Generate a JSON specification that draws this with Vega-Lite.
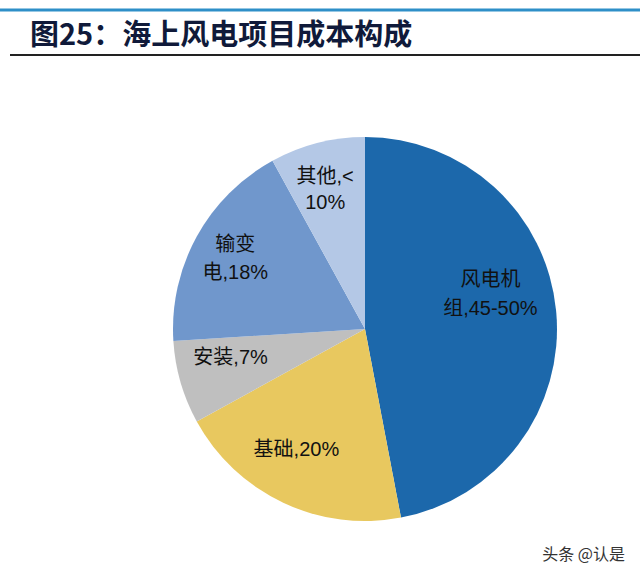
{
  "$schema": "https://vega.github.io/schema/vega-lite/v6.json",
  "width": 550,
  "height": 498,
  "autosize": "none",
  "padding": {"left": 90, "top": 80, "right": 0, "bottom": 0},
  "background": "white",
  "config": {"view": {"stroke": null}},
  "layer": [
    {
      "data": {"values": [
        {"item": "风电机组", "value": 47, "idx": 1, "label": "风电机\n组,45-50%"},
        {"item": "基础", "value": 20, "idx": 2, "label": "基础,20%"},
        {"item": "安装", "value": 7, "idx": 3, "label": "安装,7%"},
        {"item": "输变电", "value": 18, "idx": 4, "label": "输变\n电,18%"},
        {"item": "其他", "value": 8, "idx": 5, "label": "其他,<\n10%"}
      ]},
      "encoding": {
        "theta": {"field": "value", "type": "quantitative", "stack": true},
        "order": {"field": "idx", "type": "quantitative"}
      },
      "layer": [
        {
          "mark": {"type": "arc", "outerRadius": 192},
          "encoding": {
            "color": {
              "field": "item",
              "type": "nominal",
              "scale": {
                "domain": ["风电机组", "基础", "安装", "输变电", "其他"],
                "range": ["#1c68ab", "#e8c85f", "#bfbfbf", "#7097cc", "#b4c8e6"]
              },
              "legend": null
            }
          }
        },
        {
          "mark": {"type": "text", "radius": 140, "dx": -14, "dy": -36, "fontSize": 20, "font": "Liberation Sans, Noto Sans CJK SC", "lineBreak": "\n", "lineHeight": 29, "color": "#111111"},
          "encoding": {"text": {"condition": {"test": "datum.item === '风电机组'", "field": "label"}, "value": ""}}
        },
        {
          "mark": {"type": "text", "radius": 140, "dx": -9, "dy": -6, "fontSize": 20, "font": "Liberation Sans, Noto Sans CJK SC", "lineBreak": "\n", "lineHeight": 29, "color": "#111111"},
          "encoding": {"text": {"condition": {"test": "datum.item === '基础'", "field": "label"}, "value": ""}}
        },
        {
          "mark": {"type": "text", "radius": 140, "dx": 0, "dy": -10, "fontSize": 20, "font": "Liberation Sans, Noto Sans CJK SC", "lineBreak": "\n", "lineHeight": 29, "color": "#111111"},
          "encoding": {"text": {"condition": {"test": "datum.item === '安装'", "field": "label"}, "value": ""}}
        },
        {
          "mark": {"type": "text", "radius": 140, "dx": -7, "dy": -17, "fontSize": 20, "font": "Liberation Sans, Noto Sans CJK SC", "lineBreak": "\n", "lineHeight": 28, "color": "#111111"},
          "encoding": {"text": {"condition": {"test": "datum.item === '输变电'", "field": "label"}, "value": ""}}
        },
        {
          "mark": {"type": "text", "radius": 140, "dx": -5, "dy": -16, "fontSize": 20, "font": "Liberation Sans, Noto Sans CJK SC", "lineBreak": "\n", "lineHeight": 26, "color": "#111111"},
          "encoding": {"text": {"condition": {"test": "datum.item === '其他'", "field": "label"}, "value": ""}}
        }
      ]
    },
    {
      "data": {"values": [{}]},
      "mark": {"type": "rule", "color": "#2e8fc8", "strokeWidth": 3},
      "encoding": {"x": {"value": -90}, "x2": {"value": 550}, "y": {"value": -70}, "y2": {"value": -70}}
    },
    {
      "data": {"values": [{}]},
      "mark": {"type": "rule", "color": "#222222", "strokeWidth": 2},
      "encoding": {"x": {"value": -80}, "x2": {"value": 550}, "y": {"value": -25}, "y2": {"value": -25}}
    },
    {
      "data": {"values": [{"t": "图25：海上风电项目成本构成"}]},
      "mark": {"type": "text", "align": "left", "baseline": "alphabetic", "x": -60, "y": -35, "fontSize": 29, "font": "Noto Sans CJK SC", "fontWeight": "bold", "color": "#101a3a"},
      "encoding": {"text": {"field": "t", "type": "nominal"}}
    },
    {
      "data": {"values": [{"t": "头条 @认是"}]},
      "mark": {"type": "text", "align": "right", "baseline": "middle", "x": {"expr": "width - 15"}, "y": {"expr": "height - 23"}, "fontSize": 16, "font": "Noto Sans CJK SC", "color": "#333333"},
      "encoding": {"text": {"field": "t", "type": "nominal"}}
    }
  ]
}
